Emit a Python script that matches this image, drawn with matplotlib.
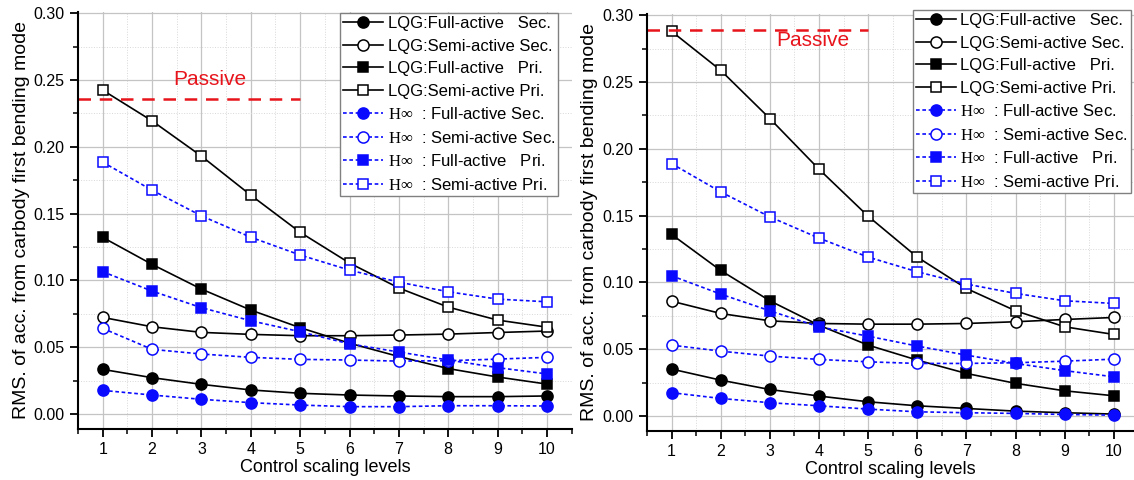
import matplotlib
matplotlib.use("Agg")
import matplotlib.pyplot as plt
import numpy as np
from matplotlib.ticker import MultipleLocator, FormatStrFormatter

plt.rcParams['font.family'] = ['Liberation Sans', 'DejaVu Sans']
plt.rcParams['mathtext.fontset'] = 'custom'
plt.rcParams['mathtext.rm'] = 'Liberation Serif'

levels = np.arange(1, 11)

labels = ["LQG:Full-active   Sec.",
          "LQG:Semi-active Sec.",
          "LQG:Full-active   Pri.",
          "LQG:Semi-active Pri.",
          r"$\mathrm{H}\infty$  : Full-active Sec.",
          r"$\mathrm{H}\infty$  : Semi-active Sec.",
          r"$\mathrm{H}\infty$  : Full-active   Pri.",
          r"$\mathrm{H}\infty$  : Semi-active Pri."]

# left panel
left_lqg_full_sec = [0.0334, 0.0272, 0.0222, 0.0180, 0.0155, 0.0142, 0.0135, 0.0130, 0.0130, 0.0135]
left_lqg_semi_sec = [0.0723, 0.0653, 0.0611, 0.0596, 0.0586, 0.0586, 0.0591, 0.0598, 0.0610, 0.0621]
left_lqg_full_pri = [0.1322, 0.1120, 0.0935, 0.0778, 0.0646, 0.0530, 0.0430, 0.0340, 0.0277, 0.0224]
left_lqg_semi_pri = [0.2424, 0.2194, 0.1930, 0.1638, 0.1360, 0.1130, 0.0943, 0.0800, 0.0703, 0.0650]
left_hinf_full_sec = [0.0177, 0.0142, 0.0110, 0.0085, 0.0067, 0.0055, 0.0055, 0.0062, 0.0062, 0.0060]
left_hinf_semi_sec = [0.0641, 0.0484, 0.0449, 0.0424, 0.0409, 0.0404, 0.0396, 0.0399, 0.0411, 0.0424]
left_hinf_full_pri = [0.1065, 0.0920, 0.0796, 0.0698, 0.0616, 0.0525, 0.0464, 0.0404, 0.0347, 0.0300]
left_hinf_semi_pri = [0.1885, 0.1675, 0.1483, 0.1323, 0.1190, 0.1077, 0.0987, 0.0915, 0.0860, 0.0840]
left_passive = 0.236

# right panel
right_lqg_full_sec = [0.0352, 0.0269, 0.0199, 0.0150, 0.0107, 0.0077, 0.0057, 0.0037, 0.0025, 0.0015]
right_lqg_semi_sec = [0.0860, 0.0768, 0.0713, 0.0693, 0.0688, 0.0688, 0.0693, 0.0706, 0.0723, 0.0738]
right_lqg_full_pri = [0.1360, 0.1090, 0.0863, 0.0680, 0.0531, 0.0419, 0.0319, 0.0245, 0.0189, 0.0152]
right_lqg_semi_pri = [0.2880, 0.2588, 0.2227, 0.1848, 0.1496, 0.1190, 0.0955, 0.0788, 0.0668, 0.0611]
right_hinf_full_sec = [0.0175, 0.0132, 0.0100, 0.0077, 0.0052, 0.0032, 0.0025, 0.0020, 0.0012, 0.0007]
right_hinf_semi_sec = [0.0531, 0.0486, 0.0449, 0.0424, 0.0406, 0.0394, 0.0394, 0.0399, 0.0411, 0.0426]
right_hinf_full_pri = [0.1050, 0.0913, 0.0788, 0.0668, 0.0598, 0.0524, 0.0456, 0.0394, 0.0340, 0.0294]
right_hinf_semi_pri = [0.1890, 0.1678, 0.1491, 0.1332, 0.1190, 0.1080, 0.0988, 0.0918, 0.0863, 0.0843]
right_passive = 0.289

blue = '#0a0aff'
styles = [
    dict(color='black', ls='-', marker='o', mfc='black'),
    dict(color='black', ls='-', marker='o', mfc='white'),
    dict(color='black', ls='-', marker='s', mfc='black'),
    dict(color='black', ls='-', marker='s', mfc='white'),
    dict(color=blue, ls=(0, (2.2, 1.6)), marker='o', mfc=blue),
    dict(color=blue, ls=(0, (2.2, 1.6)), marker='o', mfc='white'),
    dict(color=blue, ls=(0, (2.2, 1.6)), marker='s', mfc=blue),
    dict(color=blue, ls=(0, (2.2, 1.6)), marker='s', mfc='white'),
]


def draw(ax, series, passive, passive_end, text_xy, xlim, leg_anchor, leg_loc):
    for y, lab, st in zip(series, labels, styles):
        ms = 8 if st['marker'] == 'o' else 7.5
        ax.plot(levels, y, label=lab, lw=1.2, ms=ms, mec=st['color'], mew=1.1,
                color=st['color'], ls=st['ls'], marker=st['marker'], mfc=st['mfc'])
    ax.plot([xlim[0], passive_end], [passive, passive], color='#e8141c',
            ls=(0, (5, 3.5)), lw=1.8)
    ax.text(text_xy[0], text_xy[1], 'Passive', color='#e8141c', fontsize=15,
            ha='center', va='center')
    ax.set_xlim(*xlim)
    ax.set_ylim(-0.0112, 0.301)
    ax.xaxis.set_major_locator(MultipleLocator(1))
    ax.xaxis.set_minor_locator(MultipleLocator(0.5))
    ax.yaxis.set_major_locator(MultipleLocator(0.05))
    ax.yaxis.set_minor_locator(MultipleLocator(0.025))
    ax.yaxis.set_major_formatter(FormatStrFormatter('%.2f'))
    ax.grid(True, which='major', color='#c4c4c4', lw=0.9)
    ax.grid(True, which='minor', color='#d8d8d8', lw=0.7, ls=':')
    ax.set_axisbelow(True)
    for s in ['top', 'right']:
        ax.spines[s].set_visible(False)
    for s in ['left', 'bottom']:
        ax.spines[s].set_linewidth(1.5)
    ax.tick_params(which='major', direction='out', length=6, width=1.3, labelsize=11.5)
    ax.tick_params(which='minor', direction='out', length=3.5, width=1.1)
    ax.set_xlabel('Control scaling levels', fontsize=13, labelpad=1)
    ax.set_ylabel('RMS. of acc. from carbody first bending mode', fontsize=14, labelpad=3)
    leg = ax.legend(loc=leg_loc, bbox_to_anchor=leg_anchor, fontsize=12, fancybox=False,
                    framealpha=1, edgecolor='#808080', handlelength=2.4,
                    handletextpad=0.25, labelspacing=0.45, borderpad=0.2,
                    borderaxespad=0, numpoints=1)
    leg.get_frame().set_linewidth(1.0)


fig = plt.figure(figsize=(11.34, 4.8), dpi=100)
ax1 = fig.add_axes([0.0688, 0.1063, 0.4353, 0.869])
ax2 = fig.add_axes([0.5705, 0.102, 0.4295, 0.869])

draw(ax1, [left_lqg_full_sec, left_lqg_semi_sec, left_lqg_full_pri, left_lqg_semi_pri,
           left_hinf_full_sec, left_hinf_semi_sec, left_hinf_full_pri, left_hinf_semi_pri],
     left_passive, 5.0, (3.17, 0.250), (0.5, 10.5), (0.973, 0.998), 'upper right')
draw(ax2, [right_lqg_full_sec, right_lqg_semi_sec, right_lqg_full_pri, right_lqg_semi_pri,
           right_hinf_full_sec, right_hinf_semi_sec, right_hinf_full_pri, right_hinf_semi_pri],
     right_passive, 5.0, (3.88, 0.281), (0.5, 10.41), (0.546, 1.01), 'upper left')

fig.savefig('out.png', dpi=100)
